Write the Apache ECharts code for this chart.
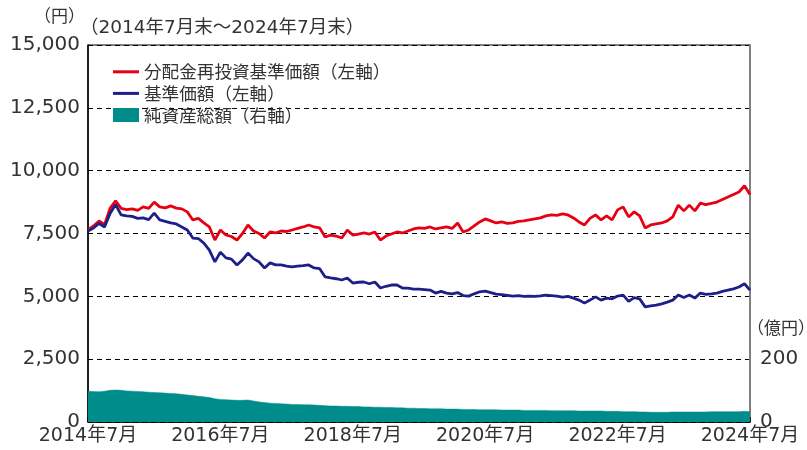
<!DOCTYPE html>
<html><head><meta charset="utf-8">
<script src="https://cdn.jsdelivr.net/npm/echarts@6/dist/echarts.min.js"></script>
<style>html,body{margin:0;padding:0;background:#fff}#c{width:807px;height:450px}</style>
</head><body><div id="c"></div>
<script>
// Months from 2014年7月 to 2024年7月 (monthly)
const startYear = 2014, startMonth = 7, monthCount = 121;
const months = [];
for (let i = 0; i < monthCount; i++) {
  const t = (startMonth - 1) + i;
  months.push((startYear + Math.floor(t / 12)) + '年' + (t % 12 + 1) + '月');
}
// 分配金再投資基準価額（円）
const reinvestNav = [
  7640,7800,8000,7850,8500,8800,8500,8450,8480,8420,
  8560,8500,8750,8560,8520,8600,8510,8480,8360,8040,
  8100,7920,7760,7240,7640,7440,7380,7240,7500,7840,
  7600,7500,7320,7560,7520,7600,7580,7640,7700,7760,
  7840,7760,7720,7360,7440,7400,7320,7640,7440,7480,
  7520,7480,7560,7240,7400,7480,7560,7520,7600,7680,
  7720,7700,7760,7680,7720,7760,7700,7920,7560,7640,
  7800,7960,8080,8000,7920,7960,7900,7920,7980,8000,
  8040,8080,8120,8200,8240,8220,8280,8240,8120,7960,
  7840,8100,8240,8040,8200,8040,8440,8560,8160,8360,
  8200,7720,7840,7880,7920,8000,8160,8630,8400,8630,
  8400,8710,8650,8700,8750,8850,8950,9050,9150,9400,
  9050
];
// 基準価額（円）
const nav = [
  7600,7720,7900,7760,8300,8650,8240,8200,8180,8100,
  8120,8050,8310,8040,7980,7920,7880,7760,7640,7320,
  7300,7120,6840,6370,6760,6530,6480,6250,6450,6720,
  6500,6370,6130,6330,6250,6250,6200,6170,6200,6220,
  6250,6130,6100,5770,5730,5700,5650,5730,5530,5560,
  5570,5500,5570,5330,5400,5450,5450,5330,5330,5290,
  5290,5270,5250,5130,5200,5130,5100,5150,5030,5010,
  5100,5180,5210,5150,5090,5070,5040,5010,5030,5000,
  5010,5000,5020,5050,5030,5010,4970,5000,4930,4850,
  4730,4850,4980,4850,4930,4900,5010,5050,4800,4950,
  4900,4580,4620,4650,4700,4770,4850,5050,4950,5050,
  4930,5130,5080,5100,5130,5200,5250,5300,5370,5500,
  5250
];
// 純資産総額（億円）
const netAssets = [
  98,97,96,98,101,102,101,99,98,97,
  96,95,94,93,92,91,90,88,86,84,
  82,80,78,74,72,71,70,69,69,70,
  67,64,62,60,59,58,57,56,56,55,
  55,54,53,52,51,51,50,50,49,49,
  48,48,47,47,46,46,45,45,44,44,
  43,43,42,42,42,41,41,41,40,40,
  40,39,39,39,39,38,38,38,38,37,
  37,37,37,37,36,36,36,36,36,35,
  35,35,35,35,34,34,34,33,33,33,
  32,32,31,31,31,31,32,32,32,32,
  32,32,32,33,33,33,33,33,33,34,
  33
];
const leftTicks = [0, 2500, 5000, 7500, 10000, 12500, 15000];
const rightShown = [0, 200];

const FONT = '"DejaVu Sans", "Noto Sans CJK JP", sans-serif';
const JFONT = '"Noto Sans CJK JP", sans-serif';
const chart = echarts.init(document.getElementById('c'), null, {renderer: 'canvas'});
chart.setOption({
  animation: false,
  backgroundColor: '#fff',
  textStyle: {fontFamily: FONT},
  grid: {left: 88, right: 57, top: 45, bottom: 28, show: true, borderColor: '#000', borderWidth: 1, backgroundColor: 'transparent'},
  graphic: [
    {type: 'text', left: 34, top: 7, style: {text: '（円）', font: '17px ' + JFONT, fill: '#333'}},
    {type: 'text', left: 80, top: 19, style: {text: '（2014年7月末～2024年7月末）', font: '18.5px ' + FONT, fill: '#333'}},
    {type: 'text', left: 747, top: 319, style: {text: '（億円）', font: '17px ' + JFONT, fill: '#333'}}
  ],
  legend: {
    orient: 'vertical', left: 108, top: 58, itemGap: 4, itemWidth: 26, itemHeight: 14,
    textStyle: {fontSize: 17.6, color: '#333', fontFamily: JFONT},
    data: [
      {name: '分配金再投資基準価額（左軸）', icon: 'path://M0,6 L26,6 L26,9 L0,9 Z'},
      {name: '基準価額（左軸）', icon: 'path://M0,6 L26,6 L26,9 L0,9 Z'},
      {name: '純資産総額（右軸）', icon: 'rect'}
    ]
  },
  xAxis: {
    type: 'category', data: months, boundaryGap: false,
    axisLine: {lineStyle: {color: '#000', width: 1.5}},
    axisTick: {inside: true, length: 5, interval: (i) => i % 24 === 0, lineStyle: {color: '#000', width: 1.5}},
    axisLabel: {interval: (i) => i % 24 === 0, fontSize: 19, color: '#333', margin: 5, fontFamily: FONT,
      formatter: (v) => v},
    splitLine: {show: false}
  },
  yAxis: [
    {
      type: 'value', min: 0, max: 15000, interval: 2500, position: 'left',
      axisLine: {show: true, lineStyle: {color: '#000', width: 1.5}},
      axisTick: {show: false},
      axisLabel: {fontSize: 20, color: '#333', margin: 8, fontFamily: FONT,
        formatter: (v) => leftTicks.includes(v) ? v.toLocaleString('en-US') : ''},
      splitLine: {show: true, lineStyle: {color: '#000', type: [5, 4], width: 1}}
    },
    {
      type: 'value', min: 0, max: 1200, interval: 200, position: 'right',
      axisLine: {show: true, lineStyle: {color: '#808080', width: 2}},
      axisTick: {show: false},
      axisLabel: {fontSize: 20, color: '#333', margin: 10, fontFamily: FONT,
        formatter: (v) => rightShown.includes(v) ? String(v) : ''},
      splitLine: {show: false}
    }
  ],
  series: [
    {
      name: '純資産総額（右軸）', type: 'line', yAxisIndex: 1, data: netAssets,
      showSymbol: false, symbol: 'none', color: '#008c8a',
      lineStyle: {width: 0.5, color: '#008c8a'}, areaStyle: {color: '#008c8a', opacity: 1}, z: 1
    },
    {
      name: '分配金再投資基準価額（左軸）', type: 'line', data: reinvestNav,
      showSymbol: false, symbol: 'none', color: '#e60012',
      lineStyle: {width: 2.8, color: '#e60012'}, z: 3
    },
    {
      name: '基準価額（左軸）', type: 'line', data: nav,
      showSymbol: false, symbol: 'none', color: '#1d2088',
      lineStyle: {width: 2.8, color: '#1d2088'}, z: 3
    }
  ]
});
</script></body></html>
